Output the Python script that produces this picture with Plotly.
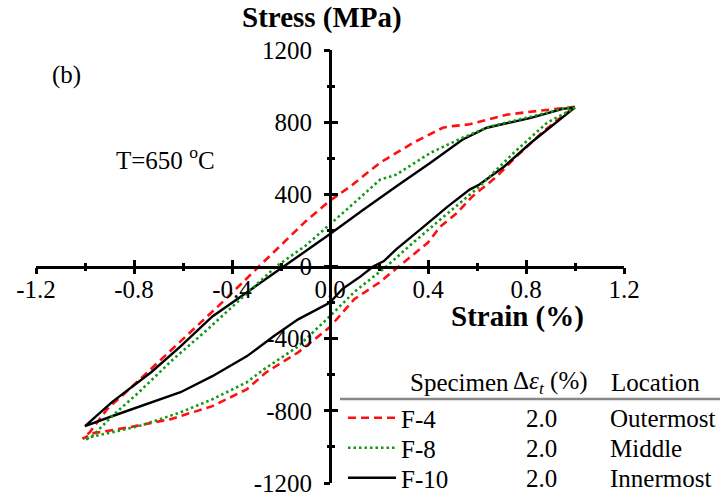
import plotly.graph_objects as go

# Hysteresis loops at T = 650 °C: strain (%) vs stress (MPa).
# Each loop runs from the tensile peak down the upper branch to the
# compressive peak, then back up the lower branch.
f4_strain = [1.00, 0.886, 0.80, 0.72, 0.65, 0.57, 0.50, 0.46, 0.34, 0.204, 0.082, 0.00,
             -0.10, -0.20, -0.29, -0.44, -0.57, -0.69, -0.82, -0.91, -0.98, -1.01,
             -0.97, -0.82, -0.65, -0.48, -0.34, -0.26, -0.13, 0.00, 0.10, 0.20, 0.28,
             0.40, 0.45, 0.52, 0.58, 0.68, 0.76, 0.87, 0.95, 1.00]
f4_stress = [885, 869, 855, 841, 815, 788, 778, 769, 686, 575, 443, 365,
             250, 120, 0, -199, -365, -514, -681, -791, -918, -955,
             -925, -891, -846, -774, -681, -586, -476, -335, -180, -90, 0,
             133, 221, 299, 387, 498, 609, 747, 835, 885]

f8_strain = [1.00, 0.95, 0.82, 0.65, 0.54, 0.41, 0.27, 0.204, 0.082, 0.00,
             -0.10, -0.22, -0.38, -0.50, -0.64, -0.78, -0.89, -0.97, -1.00,
             -0.98, -0.78, -0.61, -0.48, -0.34, -0.27, -0.13, 0.00, 0.10, 0.23,
             0.34, 0.45, 0.54, 0.61, 0.75, 0.886, 1.00]
f8_stress = [880, 875, 830, 775, 713, 630, 509, 481, 332, 235,
             115, 0, -199, -349, -514, -697, -830, -940, -962,
             -946, -885, -808, -736, -642, -570, -443, -275, -140, 0,
             133, 260, 360, 443, 630, 797, 880]

f10_strain = [1.00, 0.95, 0.82, 0.64, 0.54, 0.41, 0.27, 0.136, 0.00,
              -0.10, -0.19, -0.34, -0.48, -0.61, -0.73, -0.89, -0.97, -1.00,
              -0.89, -0.75, -0.61, -0.48, -0.34, -0.23, -0.13, 0.00, 0.05, 0.12, 0.176,
              0.22, 0.27, 0.38, 0.48, 0.57, 0.61, 0.71, 0.82, 0.886, 1.00]
f10_stress = [882, 874, 824, 769, 703, 575, 443, 315, 180,
              85, 0, -144, -277, -443, -586, -752, -847, -885,
              -830, -763, -697, -608, -498, -387, -293, -200, -125, -60, 0,
              30, 95, 218, 332, 426, 454, 553, 686, 758, 882]

# Axis ticks
x_ticks = [-1.2, -0.8, -0.4, 0.0, 0.4, 0.8, 1.2]
x_ticktext = ["-1.2", "-0.8", "-0.4", "0.0", "0.4", "0.8", "1.2"]
x_minor = [-1.0, -0.6, -0.2, 0.2, 0.6, 1.0]
y_ticks = [-1200, -800, -400, 0, 400, 800, 1200]
y_ticktext = ["-1200", "-800", "-400", "0", "400", "800", "1200"]
y_minor = [-1000, -600, -200, 200, 600, 1000]

# Legend table
specimens = ["F-4", "F-8", "F-10"]
strain_ranges = ["2.0", "2.0", "2.0"]
locations = ["Outermost", "Middle", "Innermost"]

FONT = "Liberation Serif"
W, H = 720, 497
ML, MR, MT, MB = 36, 96, 50, 14
PW, PH = W - ML - MR, H - MT - MB


def px(x):
    return (x - ML) / PW


def py(y):
    return (H - MB - y) / PH


series = [
    (f4_strain, f4_stress, dict(color="#ff1010", width=2.6, dash="8px,5px"), "x", "y"),
    # on the label-carrying strain axis
    (f8_strain, f8_stress, dict(color="#119911", width=2.6, dash="2.5px,3px"), "x3", "y"),
    # on the overlay axis pair that carries the outer tick halves
    (f10_strain, f10_stress, dict(color="black", width=2.4), "x2", "y2"),
]

fig = go.Figure()
legend_rows_y = [418, 448, 478]
for i, (xs, ys, line, xa, ya) in enumerate(series):
    lg = "legend" if i == 0 else f"legend{i + 1}"
    fig.add_trace(go.Scatter(x=xs, y=ys, mode="lines", line=line, xaxis=xa, yaxis=ya,
                             name=specimens[i], legend=lg, showlegend=True))

major = dict(ticklen=6, tickwidth=2.5, tickcolor="black")
minor = dict(ticklen=3, tickwidth=2.5, tickcolor="black")
fig.update_layout(
    width=W, height=H,
    margin=dict(l=ML, r=MR, t=MT, b=MB, autoexpand=False),
    plot_bgcolor="white", paper_bgcolor="white",
    # main axes: line and the inner tick halves
    xaxis=dict(range=[-1.2, 1.2], domain=[0, 1], anchor="free", position=0.5,
               showgrid=False, zeroline=False, showline=True, linecolor="black", linewidth=3,
               tickmode="array", tickvals=x_ticks, ticks="inside", showticklabels=False,
               minor=dict(tickmode="array", tickvals=x_minor, ticks="inside", **minor),
               **major),
    yaxis=dict(range=[-1200, 1200], domain=[0, 1], anchor="free", position=0.5,
               showgrid=False, zeroline=False, showline=True, linecolor="black", linewidth=3,
               tickmode="array", tickvals=y_ticks, ticktext=y_ticktext, ticks="inside",
               ticklabelstandoff=12,
               tickfont=dict(family=FONT, size=25, color="black"),
               minor=dict(tickmode="array", tickvals=y_minor, ticks="inside", **minor),
               **major),
    # overlay axes: outer tick halves so that the ticks cross the axis lines
    xaxis2=dict(range=[-1.2, 1.2], overlaying="x", anchor="free", position=0.5,
                showgrid=False, zeroline=False, showline=False, showticklabels=False,
                tickmode="array", tickvals=x_ticks, ticks="outside",
                minor=dict(tickmode="array", tickvals=x_minor, ticks="outside", **minor),
                **major),
    yaxis2=dict(range=[-1200, 1200], overlaying="y", anchor="free", position=0.5,
                showgrid=False, zeroline=False, showline=False, showticklabels=False,
                tickmode="array", tickvals=y_ticks, ticks="outside",
                minor=dict(tickmode="array", tickvals=y_minor, ticks="outside", **minor),
                **major),
    # strain tick labels below the axis line
    xaxis3=dict(range=[-1.2, 1.2], overlaying="x", anchor="free", position=0.5 - 5 / PH,
                showgrid=False, zeroline=False, showline=False, ticks="",
                tickmode="array", tickvals=x_ticks, ticktext=x_ticktext,
                tickfont=dict(family=FONT, size=25, color="black")),
)

legend_style = dict(font=dict(family=FONT, size=25, color="black"), bgcolor="rgba(0,0,0,0)",
                    itemwidth=48, xanchor="left", yanchor="middle", x=px(343))
fig.update_layout(
    legend=dict(y=py(legend_rows_y[0]), **legend_style),
    legend2=dict(y=py(legend_rows_y[1]), **legend_style),
    legend3=dict(y=py(legend_rows_y[2]), **legend_style),
)

annotations = [
    dict(text="<b>Stress (MPa)</b>", x=px(322), y=py(18), size=29),
    dict(text="<b>Strain (%)</b>", x=px(517), y=py(316), size=29),
    dict(text="(b)", x=px(66), y=py(75), size=25),
    dict(text="T=650 <sup>o</sup>C", x=px(165), y=py(158), size=25),
]
for a in annotations:
    fig.add_annotation(text=a["text"], x=a["x"], y=a["y"], xref="paper", yref="paper",
                       showarrow=False, xanchor="center", yanchor="middle",
                       font=dict(family=FONT, size=a["size"], color="black"))

# legend table header and columns
header = [("Specimen", 408), ("Δ<i>ε<sub>t</sub></i> (%)", 511), ("Location", 609)]
for txt, x in header:
    fig.add_annotation(text=txt, x=px(x), y=py(382), xref="paper", yref="paper",
                       showarrow=False, xanchor="left", yanchor="middle",
                       font=dict(family=FONT, size=25, color="black"))
for i in range(3):
    for txt, x in ((strain_ranges[i], 524), (locations[i], 608)):
        fig.add_annotation(text=txt, x=px(x), y=py(legend_rows_y[i]), xref="paper", yref="paper",
                           showarrow=False, xanchor="left", yanchor="middle",
                           font=dict(family=FONT, size=25, color="black"))

fig.add_shape(type="line", xref="paper", yref="paper", x0=px(340), x1=px(720),
              y0=py(399), y1=py(399), line=dict(color="#888888", width=2.5))

fig.write_html("out.html")
